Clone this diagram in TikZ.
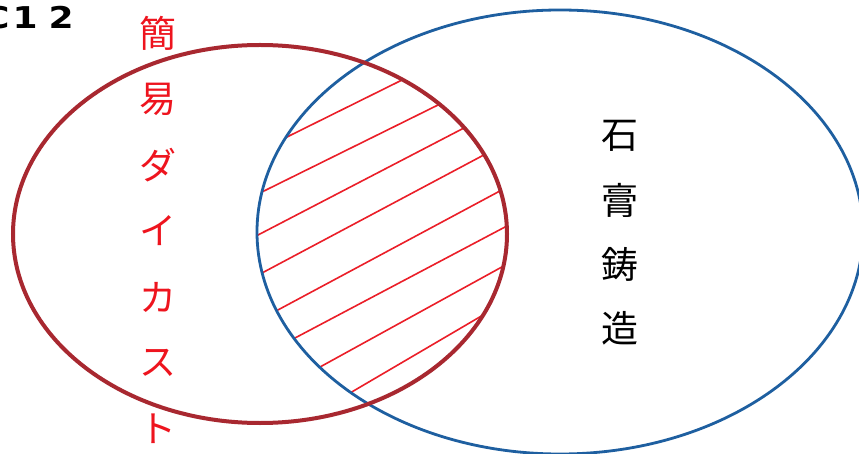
\documentclass[tikz,border=0pt]{standalone}
\usepackage{fontspec}
\newfontfamily\cjk{Noto Sans CJK JP}
\newfontfamily\lab[FakeStretch=1.2]{DejaVu Sans}
\definecolor{redring}{RGB}{168,40,48}
\definecolor{bluering}{RGB}{30,95,160}
\definecolor{hatchred}{RGB}{235,30,40}
\definecolor{textred}{RGB}{238,20,30}
\begin{document}
\begin{tikzpicture}[x=1pt,y=-1pt,
  ringA/.style={draw=redring,line width=4pt},
  ringB/.style={draw=bluering,line width=2.8pt},
  hatchline/.style={draw=hatchred,line width=1.6pt,shorten <=-15pt,shorten >=-15pt},
  jchar/.style={inner sep=0pt,font=\cjk\fontsize{37pt}{37pt}\selectfont},
  lbl/.style={inner sep=0pt,anchor=base west,font=\lab\bfseries\fontsize{30pt}{30pt}\selectfont}]
\useasboundingbox (0,0) rectangle (859,454);
\fill[white] (0,0) rectangle (859,454);
% hatching in the overlap
\begin{scope}
\clip (260,234) ellipse [x radius=247pt, y radius=189pt];
\clip (560,232) ellipse [x radius=303pt, y radius=222pt];
\coordinate (l1) at (289,136); \coordinate (r1) at (398,82);
\coordinate (l2) at (268,189); \coordinate (r2) at (438,105);
\coordinate (l3) at (258,235); \coordinate (r3) at (462,129);
\coordinate (l4) at (262,273); \coordinate (r4) at (480,157);
\coordinate (l5) at (276,311); \coordinate (r5) at (498,192);
\coordinate (l6) at (295,338); \coordinate (r6) at (505,227);
\coordinate (l7) at (320,367); \coordinate (r7) at (500,268);
\coordinate (l8) at (350,393); \coordinate (r8) at (478,318);
\foreach \i in {1,...,8} \draw[hatchline] (l\i) -- (r\i);
\end{scope}
% rings
\draw[ringB] (560,232) ellipse [x radius=303pt, y radius=222pt];
\draw[ringA] (260,234) ellipse [x radius=247pt, y radius=189pt];
% labels
\node[lbl] (tag) at (-17,29) {C\hspace{3pt}1\hspace{11pt}2};
\foreach \c [count=\k] in {簡,易,ダ,イ,カ,ス,ト}
  \node[jchar,text=textred] (a\k) at (158,{33+66*(\k-1)}) {\c};
\foreach \c [count=\k] in {石,膏,鋳,造}
  \node[jchar,text=black] (b\k) at (620,{136+64*(\k-1)}) {\c};
\end{tikzpicture}
\end{document}
